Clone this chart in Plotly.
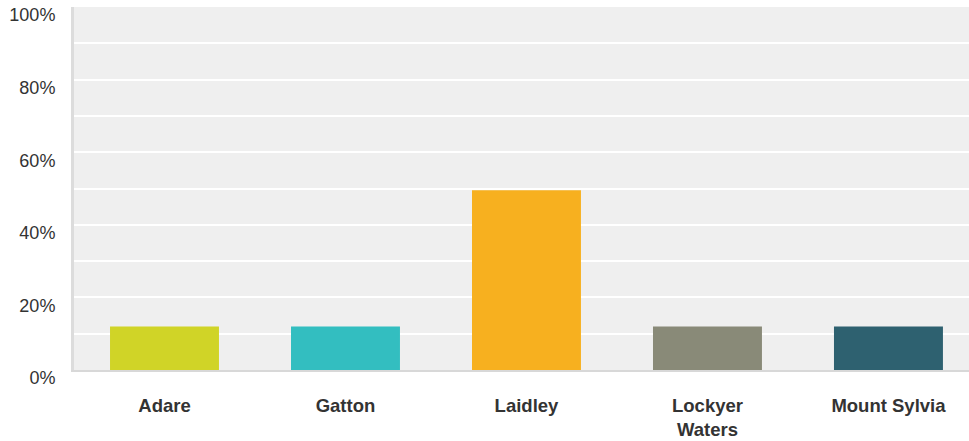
import plotly.graph_objects as go

categories = ["Adare", "Gatton", "Laidley", "Lockyer<br>Waters", "Mount Sylvia"]
values = [12.0, 12.0, 49.5, 12.0, 12.0]
colors = ["#d0d427", "#33bec0", "#f7b01f", "#898a78", "#2e6170"]
ytick_vals = [0, 10, 20, 30, 40, 50, 60, 70, 80, 90, 100]
ytick_text = ["0%", "", "20%", "", "40%", "", "60%", "", "80%", "", "100%"]

fig = go.Figure(go.Bar(
    x=list(range(len(categories))),
    y=values,
    marker=dict(color=colors, line=dict(width=0)),
    width=0.602,
    hoverinfo="skip",
))

fig.update_layout(
    width=969, height=441,
    margin=dict(l=74, r=0, t=7, b=71),
    paper_bgcolor="white",
    plot_bgcolor="#efefef",
    showlegend=False,
    font=dict(family="Liberation Sans, Arial, sans-serif", color="#333333"),
)
fig.update_xaxes(
    tickmode="array",
    tickvals=list(range(len(categories))),
    ticktext=["<b>%s</b>" % c for c in categories],
    range=[-0.5, 4.445],
    showgrid=False,
    zeroline=False,
    showline=True, linecolor="#d8d8d8", linewidth=2,
    ticks="", tickfont=dict(size=18.5, color="#333333"),
    ticklabelstandoff=18,
    fixedrange=True,
)
fig.update_yaxes(
    range=[0, 100],
    tickmode="array",
    tickvals=ytick_vals,
    ticktext=ytick_text,
    showgrid=True, gridcolor="#ffffff", gridwidth=2,
    zeroline=False,
    showline=True, linecolor="#dcdcdc", linewidth=3,
    ticks="", tickfont=dict(size=18, color="#333333"),
    ticklabelshift=8,
    ticklabelstandoff=12,
    fixedrange=True,
)

fig.write_html("out.html", config={"displayModeBar": False},
               post_script="document.body.style.margin='0';document.body.style.overflow='hidden';")
